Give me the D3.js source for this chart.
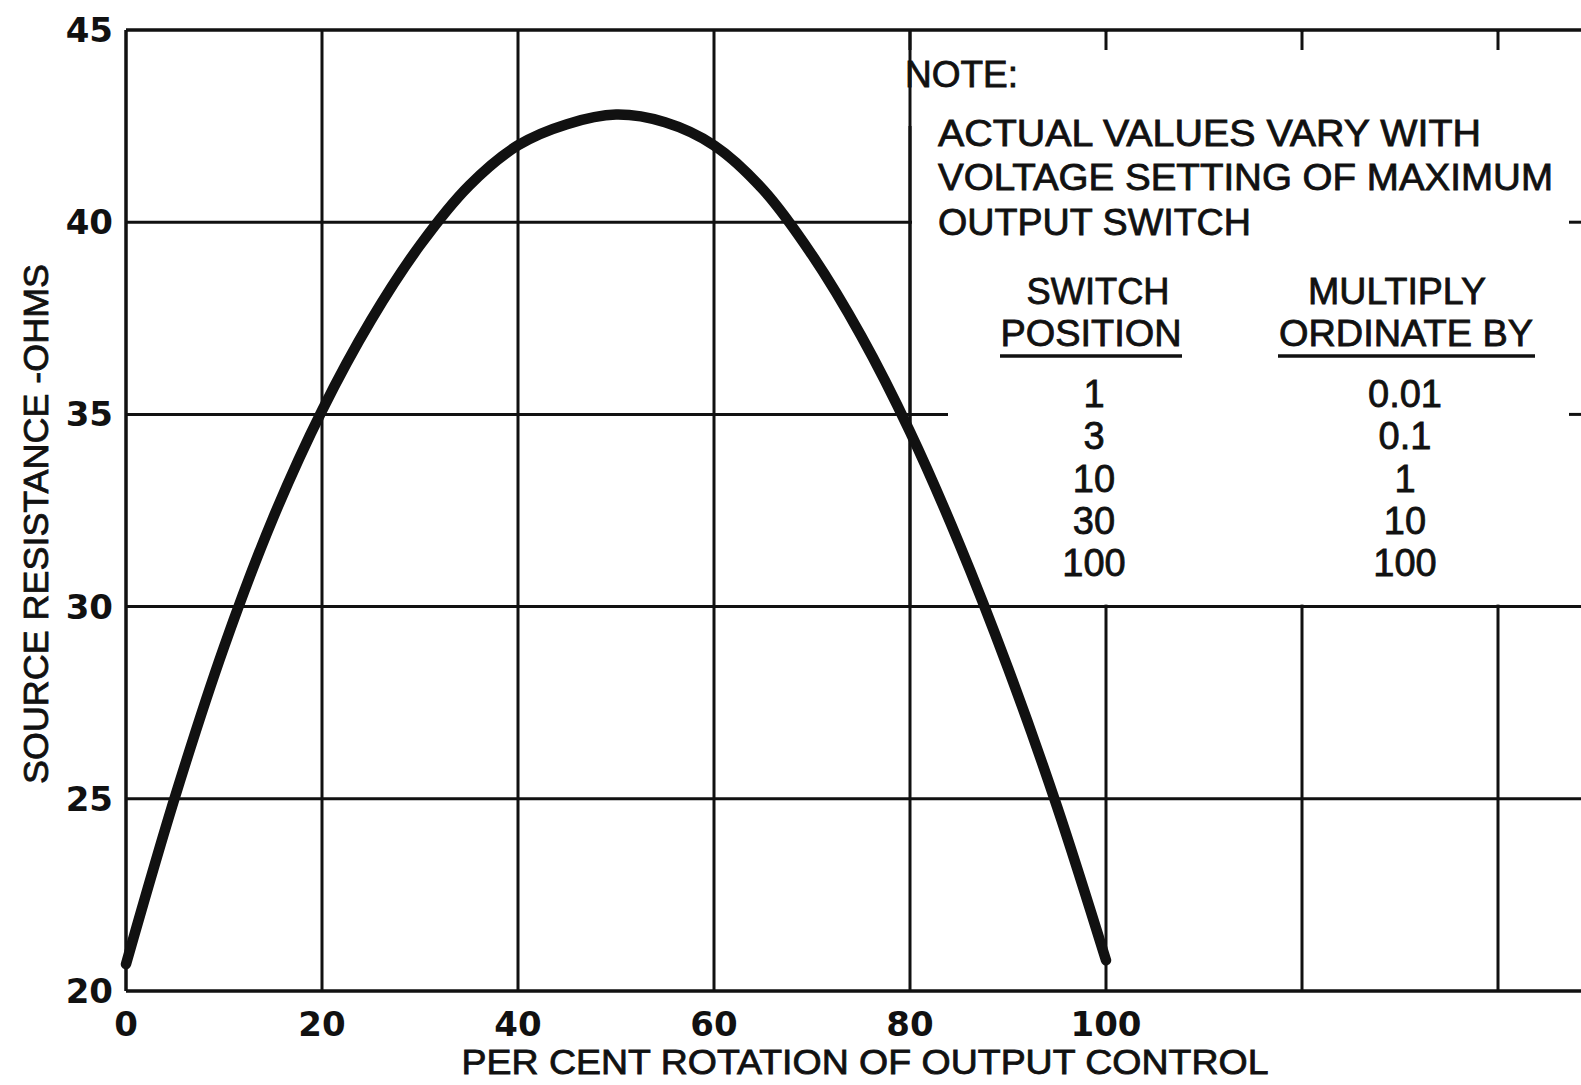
<!DOCTYPE html>
<html>
<head>
<meta charset="utf-8">
<script src="https://cdn.jsdelivr.net/npm/d3@7"></script>
<style>
  html, body { margin: 0; padding: 0; background: #fff; }
  text { font-family: "Liberation Sans", Arial, sans-serif; fill: #111; }
  text.tick { font-family: "DejaVu Sans", sans-serif; font-weight: bold; font-size: 34px; }
</style>
</head>
<body>
<div id="chart"></div>
<script>
//chart data
var rotation   = [0, 5, 10, 15, 20, 25, 30, 35, 40, 45, 50, 55, 60, 65, 70, 75, 80, 85, 90, 95, 100];
var resistance = [20.7, 25.05, 28.95, 32.3, 35.1, 37.45, 39.4, 40.95, 42.0, 42.55, 42.8, 42.6, 42.0, 40.85, 39.15, 37.05, 34.55, 31.65, 28.4, 24.8, 20.8];
var xTicks = [0, 20, 40, 60, 80, 100];
var xGrid = [0, 20, 40, 60, 80, 100, 120, 140];
var yTicks = [20, 25, 30, 35, 40, 45];
var noteLines = ['ACTUAL VALUES VARY WITH', 'VOLTAGE SETTING OF MAXIMUM', 'OUTPUT SWITCH'];
var switchPositions = ['1', '3', '10', '30', '100'];
var multipliers = ['0.01', '0.1', '1', '10', '100'];

var width = 1581, height = 1085;

var svg = d3.select('#chart').append('svg')
    .attr('width', width)
    .attr('height', height);

var x = d3.scaleLinear().domain([0, 140]).range([126, 1498]);
var y = d3.scaleLinear().domain([20, 45]).range([991, 30]);

var ink = '#111';

//grid lines
var grid = svg.append('g').attr('stroke', ink).attr('stroke-width', 3);
grid.selectAll('.vx').data(xGrid).enter().append('line')
    .attr('x1', function (d) { return x(d); })
    .attr('x2', function (d) { return x(d); })
    .attr('y1', y(45)).attr('y2', y(20))
    .attr('stroke-width', function (d) { return d === 0 ? 3.5 : 3; });
grid.selectAll('.hy').data(yTicks).enter().append('line')
    .attr('x1', x(0)).attr('x2', width)
    .attr('y1', function (d) { return y(d); })
    .attr('y2', function (d) { return y(d); })
    .attr('stroke-width', function (d) { return (d === 20 || d === 45) ? 3.5 : 3; });

//white note panel over the upper right grid
svg.append('rect')
    .attr('x', x(80) + 2).attr('y', y(45) + 2)
    .attr('width', width - x(80)).attr('height', y(30) - y(45) - 4)
    .attr('fill', '#fff');

//top tick marks inside the panel
svg.selectAll('.tt').data([80, 100, 120, 140]).enter().append('line')
    .attr('x1', function (d) { return x(d); })
    .attr('x2', function (d) { return x(d); })
    .attr('y1', y(45)).attr('y2', y(45) + 20)
    .attr('stroke', ink).attr('stroke-width', 3);

//right edge tick marks
svg.selectAll('.rt').data([40, 35]).enter().append('line')
    .attr('x1', width - 12).attr('x2', width)
    .attr('y1', function (d) { return y(d); })
    .attr('y2', function (d) { return y(d); })
    .attr('stroke', ink).attr('stroke-width', 3);

//partial lines at the panel edge
svg.append('line')
    .attr('x1', x(80)).attr('x2', x(80))
    .attr('y1', 126).attr('y2', y(30))
    .attr('stroke', ink).attr('stroke-width', 3);
svg.append('line')
    .attr('x1', x(80)).attr('x2', x(80) + 38)
    .attr('y1', y(35)).attr('y2', y(35))
    .attr('stroke', ink).attr('stroke-width', 3);

//curve
var line = d3.line()
    .x(function (d) { return x(d[0]); })
    .y(function (d) { return y(d[1]); })
    .curve(d3.curveCatmullRom.alpha(0.5));

svg.append('path')
    .datum(rotation.map(function (r, i) { return [r, resistance[i]]; }))
    .attr('d', line)
    .attr('fill', 'none')
    .attr('stroke', ink)
    .attr('stroke-width', 10.5)
    .attr('stroke-linecap', 'round')
    .attr('stroke-linejoin', 'round');

//tick labels
svg.selectAll('.xl').data(xTicks).enter().append('text')
    .attr('class', 'tick')
    .attr('x', function (d) { return x(d); })
    .attr('y', 1036)
    .attr('text-anchor', 'middle')
    .text(function (d) { return d; });

svg.selectAll('.yl').data(yTicks).enter().append('text')
    .attr('class', 'tick')
    .attr('x', 113)
    .attr('y', function (d) { return y(d) + 12; })
    .attr('text-anchor', 'end')
    .text(function (d) { return d; });

//axis titles
svg.append('text')
    .attr('x', 865).attr('y', 1074)
    .attr('text-anchor', 'middle')
    .attr('font-size', 35)
    .attr('textLength', 807)
    .attr('lengthAdjust', 'spacingAndGlyphs')
    .attr('stroke', ink).attr('stroke-width', 0.8)
    .text('PER CENT ROTATION OF OUTPUT CONTROL');

svg.append('text')
    .attr('transform', 'translate(48,' + 524 + ') rotate(-90)')
    .attr('text-anchor', 'middle')
    .attr('font-size', 35)
    .attr('textLength', 520)
    .attr('lengthAdjust', 'spacingAndGlyphs')
    .attr('stroke', ink).attr('stroke-width', 0.8)
    .text('SOURCE RESISTANCE -OHMS');

//note text
var note = svg.append('g')
    .attr('stroke', ink).attr('stroke-width', 0.8);

note.append('text')
    .attr('x', 905).attr('y', 87)
    .attr('font-size', 36)
    .attr('textLength', 113)
    .attr('lengthAdjust', 'spacingAndGlyphs')
    .text('NOTE:');

var noteWidths = [543, 615, 313];
note.selectAll('.nl').data(noteLines).enter().append('text')
    .attr('x', 938)
    .attr('y', function (d, i) { return 146 + i * 44.3; })
    .attr('font-size', 36)
    .attr('textLength', function (d, i) { return noteWidths[i]; })
    .attr('lengthAdjust', 'spacingAndGlyphs')
    .text(function (d) { return d; });

//switch table headers
var heads = [
    { top: 'SWITCH', topX: 1098, topW: 143, bot: 'POSITION', botX: 1091, botW: 181, u1: 1000, u2: 1182 },
    { top: 'MULTIPLY', topX: 1397, topW: 178, bot: 'ORDINATE BY', botX: 1406, botW: 254, u1: 1278, u2: 1535 }
];
heads.forEach(function (h) {
    note.append('text').attr('x', h.topX).attr('y', 304)
        .attr('text-anchor', 'middle').attr('font-size', 36)
        .attr('textLength', h.topW).attr('lengthAdjust', 'spacingAndGlyphs')
        .text(h.top);
    note.append('text').attr('x', h.botX).attr('y', 346)
        .attr('text-anchor', 'middle').attr('font-size', 36)
        .attr('textLength', h.botW).attr('lengthAdjust', 'spacingAndGlyphs')
        .text(h.bot);
    svg.append('line')
        .attr('x1', h.u1).attr('x2', h.u2)
        .attr('y1', 356).attr('y2', 356)
        .attr('stroke', ink).attr('stroke-width', 3.5);
});

//switch table values
var col1 = 1094, col2 = 1405;
note.selectAll('.sp').data(switchPositions).enter().append('text')
    .attr('x', col1)
    .attr('y', function (d, i) { return 407 + i * 42.3; })
    .attr('text-anchor', 'middle')
    .attr('font-size', 38)
    .text(function (d) { return d; });

note.selectAll('.mu').data(multipliers).enter().append('text')
    .attr('x', col2)
    .attr('y', function (d, i) { return 407 + i * 42.3; })
    .attr('text-anchor', 'middle')
    .attr('font-size', 38)
    .text(function (d) { return d; });
</script>
</body>
</html>
